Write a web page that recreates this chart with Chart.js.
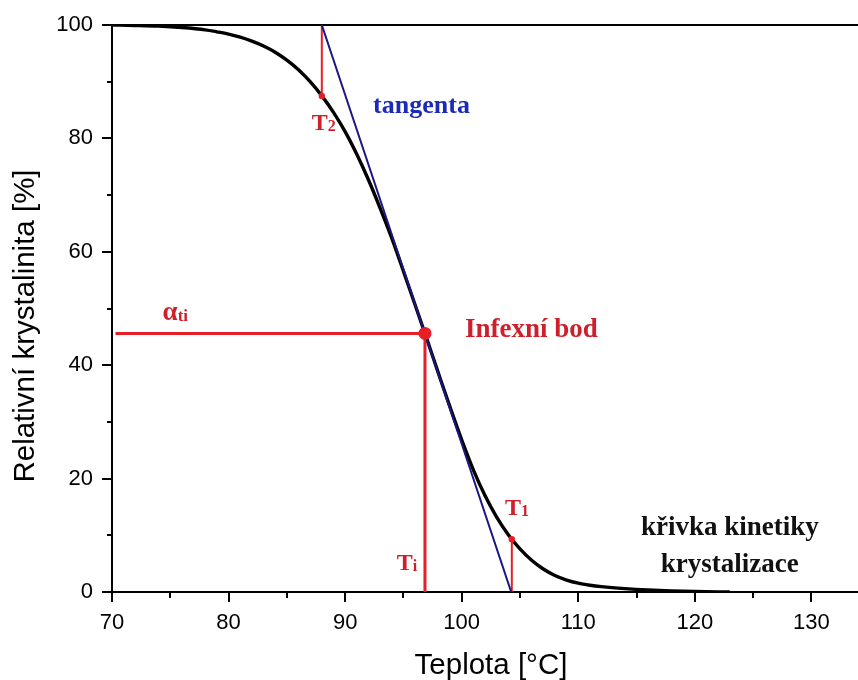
<!DOCTYPE html>
<html>
<head>
<meta charset="utf-8">
<script src="https://cdn.jsdelivr.net/npm/chart.js@4.4.1/dist/chart.umd.min.js"></script>
<style>
  html, body { margin: 0; padding: 0; background: #fff; }
  canvas { display: block; }
</style>
</head>
<body>
<canvas id="chart" width="858" height="680"></canvas>
<script>
// Crystallization kinetics curve: relative crystallinity [%] vs temperature [°C]
const temperature = [70, 72, 74, 76, 78, 79, 80, 81, 82, 83, 84, 85, 86, 87, 88, 89, 90, 91, 92, 93, 94, 95, 96,
    97, 98, 99, 100, 101, 102, 103, 104, 105, 106, 107, 108, 109, 110, 111, 112, 114, 116, 118, 120, 123];
const crystallinity = [100, 99.92, 99.8, 99.55, 99.15, 98.8, 98.4, 97.85, 97.15, 96.3, 95.2, 93.8, 92.1, 90.0, 87.5,
    84.6, 81.2, 77.2, 72.7, 67.7, 62.4, 56.6, 50.65,
    44.68, 38.6, 32.6, 26.85, 21.55, 17.0, 13.2, 10.1, 7.6, 5.6, 4.05, 2.9, 2.1, 1.55, 1.2, 0.95, 0.6, 0.35, 0.18, 0.08, 0];

// Construction of the inflection-point method
const inflection = { x: 96.85, y: 45.6 };
const t2Point = { x: 88.0, y: 87.5 };
const t1Point = { x: 104.3, y: 9.3 };
const tangentX = [88.0, 104.25];
const tangentY = [100, 0];
const alphaStartX = 70.3;

const xTicks = [70, 80, 90, 100, 110, 120, 130];
const yTicks = [0, 20, 40, 60, 80, 100];

const SANS = "'Liberation Sans', Arial, sans-serif";
const SERIF = "'Liberation Serif', 'Times New Roman', serif";
const RED_LINE = '#e61e26';
const RED_TEXT = '#cf1f2b';

Chart.defaults.font.family = SANS;
Chart.defaults.color = '#000';

const curve = temperature.map((t, i) => ({ x: t, y: crystallinity[i] }));

function segment(x0, y0, x1, y1) {
    return [{ x: x0, y: y0 }, { x: x1, y: y1 }];
}

function lineSet(data, color, width, order) {
    return {
        data: data,
        borderColor: color,
        borderWidth: width,
        pointRadius: 0,
        fill: false,
        order: order
    };
}

// text with a small subscript sitting on the same baseline
function subText(ctx, main, sub, px, py, mainFont, subFont, color) {
    ctx.fillStyle = color;
    ctx.textAlign = 'left';
    ctx.textBaseline = 'alphabetic';
    ctx.font = mainFont;
    ctx.fillText(main, px, py);
    const w = ctx.measureText(main).width;
    ctx.font = subFont;
    ctx.fillText(sub, px + w, py + 1);
}

const extras = {
    id: 'extras',
    beforeDatasetsDraw(chart) {
        const { ctx, chartArea, scales: { x, y } } = chart;
        ctx.save();
        ctx.strokeStyle = '#000';
        ctx.lineWidth = 2;
        // top frame line
        ctx.beginPath();
        ctx.moveTo(chartArea.left - 1, chartArea.top);
        ctx.lineTo(chart.width, chartArea.top);
        ctx.stroke();
        // minor ticks
        ctx.beginPath();
        for (let v = 75; v < x.max; v += 10) {
            const px = Math.round(x.getPixelForValue(v));
            ctx.moveTo(px, chartArea.bottom);
            ctx.lineTo(px, chartArea.bottom + 6);
        }
        for (let v = 10; v < 100; v += 20) {
            const py = Math.round(y.getPixelForValue(v));
            ctx.moveTo(chartArea.left, py);
            ctx.lineTo(chartArea.left - 5, py);
        }
        ctx.stroke();

        // axis titles
        ctx.fillStyle = '#000';
        ctx.font = '29.5px ' + SANS;
        ctx.textAlign = 'center';
        ctx.textBaseline = 'alphabetic';
        ctx.fillText('Teplota [°C]', 491, 674);
        ctx.translate(34, 326);
        ctx.rotate(-Math.PI / 2);
        ctx.fillText('Relativní krystalinita [%]', 0, 0);
        ctx.restore();
    },
    afterDatasetsDraw(chart) {
        const { ctx, scales: { x, y } } = chart;
        ctx.save();
        ctx.textBaseline = 'alphabetic';

        ctx.font = 'bold 26px ' + SERIF;
        ctx.fillStyle = '#1b2bb8';
        ctx.textAlign = 'left';
        ctx.fillText('tangenta', x.getPixelForValue(92.4), y.getPixelForValue(84.5));

        ctx.font = 'bold 27px ' + SERIF;
        ctx.fillStyle = RED_TEXT;
        ctx.fillText('Infexní bod', x.getPixelForValue(100.28), y.getPixelForValue(44.94));

        ctx.font = 'bold 27px ' + SERIF;
        ctx.fillStyle = '#111';
        ctx.textAlign = 'center';
        ctx.fillText('křivka kinetiky', x.getPixelForValue(123.0), y.getPixelForValue(10.0));
        ctx.fillText('krystalizace', x.getPixelForValue(123.0), y.getPixelForValue(3.53));

        subText(ctx, 'T', '2', x.getPixelForValue(87.14), y.getPixelForValue(81.47),
            'bold 24px ' + SERIF, 'bold 16px ' + SERIF, RED_TEXT);
        subText(ctx, 'T', '1', x.getPixelForValue(103.71), y.getPixelForValue(13.53),
            'bold 24px ' + SERIF, 'bold 16px ' + SERIF, RED_TEXT);
        subText(ctx, 'T', 'i', x.getPixelForValue(94.43), y.getPixelForValue(3.83),
            'bold 24px ' + SERIF, 'bold 16px ' + SERIF, RED_TEXT);
        subText(ctx, 'α', 'ti', x.getPixelForValue(74.34), y.getPixelForValue(47.94),
            'bold 27px ' + SERIF, 'bold 17px ' + SERIF, RED_TEXT);
        ctx.restore();
    }
};

new Chart(document.getElementById('chart'), {
    type: 'line',
    data: {
        datasets: [
            {
                data: [inflection, t2Point, t1Point],
                showLine: false,
                pointRadius: [6.5, 3.2, 3.2],
                pointBackgroundColor: RED_LINE,
                pointBorderWidth: 0,
                order: 0
            },
            lineSet(segment(tangentX[0], tangentY[0], tangentX[1], tangentY[1]), '#18187e', 2, 1),
            lineSet(segment(alphaStartX, inflection.y, inflection.x, inflection.y), RED_LINE, 3, 2),
            lineSet(segment(inflection.x, inflection.y, inflection.x, 0), RED_LINE, 3, 2),
            lineSet(segment(t2Point.x, 100, t2Point.x, t2Point.y), RED_LINE, 2, 2),
            lineSet(segment(t1Point.x, 0, t1Point.x, t1Point.y), RED_LINE, 2, 2),
            {
                data: curve,
                borderColor: '#000',
                borderWidth: 3.4,
                pointRadius: 0,
                cubicInterpolationMode: 'monotone',
                fill: false,
                order: 3
            }
        ]
    },
    options: {
        responsive: false,
        animation: false,
        devicePixelRatio: 1,
        layout: { autoPadding: false, padding: { top: 25, right: 0, bottom: 0, left: 0 } },
        plugins: {
            legend: { display: false },
            tooltip: { enabled: false }
        },
        scales: {
            x: {
                type: 'linear',
                min: 70,
                max: 134,
                border: { display: true, color: '#000', width: 2 },
                grid: { drawOnChartArea: false, drawTicks: true, tickLength: 10, color: '#000', lineWidth: 2 },
                afterBuildTicks: s => { s.ticks = xTicks.map(v => ({ value: v })); },
                ticks: { autoSkip: false, maxRotation: 0, padding: 8, font: { size: 22 }, color: '#000' },
                afterFit: s => {
                    s.height = 88;
                    s.paddingLeft = 0;
                    s.paddingRight = 0;
                }
            },
            y: {
                type: 'linear',
                min: 0,
                max: 100,
                border: { display: true, color: '#000', width: 2 },
                grid: { drawOnChartArea: false, drawTicks: true, tickLength: 10, color: '#000', lineWidth: 2 },
                afterBuildTicks: s => { s.ticks = yTicks.map(v => ({ value: v })); },
                ticks: { padding: 9, font: { size: 22 }, color: '#000' },
                afterFit: s => { s.width = 112; }
            }
        }
    },
    plugins: [extras]
});
</script>
</body>
</html>
